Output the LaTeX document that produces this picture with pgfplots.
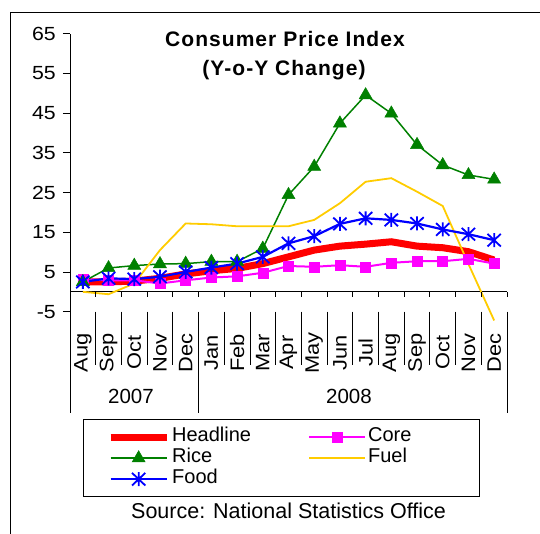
\documentclass[border=0pt]{standalone}
\usepackage{fontspec}
\setmainfont{Liberation Sans}
\newfontfamily\widefont[FakeStretch=1.12]{Liberation Sans}
\usepackage{pgfplots}
\pgfplotsset{compat=1.18}
\definecolor{fuelyellow}{RGB}{255,204,0}
\definecolor{ricegreen}{RGB}{0,128,0}
\definecolor{coremagenta}{RGB}{255,0,255}
\definecolor{foodblue}{RGB}{0,0,255}
\definecolor{headred}{RGB}{255,0,0}

% Excel style asterisk: an X with a vertical bar
\pgfdeclareplotmark{xast}{%
  \pgfpathmoveto{\pgfqpoint{-0.95\pgfplotmarksize}{-0.9\pgfplotmarksize}}%
  \pgfpathlineto{\pgfqpoint{0.95\pgfplotmarksize}{0.9\pgfplotmarksize}}%
  \pgfpathmoveto{\pgfqpoint{-0.95\pgfplotmarksize}{0.9\pgfplotmarksize}}%
  \pgfpathlineto{\pgfqpoint{0.95\pgfplotmarksize}{-0.9\pgfplotmarksize}}%
  \pgfpathmoveto{\pgfqpoint{0pt}{-\pgfplotmarksize}}%
  \pgfpathlineto{\pgfqpoint{0pt}{\pgfplotmarksize}}%
  \pgfusepathqstroke}

\begin{document}
\begin{tikzpicture}
\path[use as bounding box] (0,0) rectangle (540pt,-533pt);
% outer frame (only top and left edges are visible)
\draw[line width=0.8pt] (10pt,-600pt) -- (10pt,-12pt) -- (600pt,-12pt);

\node[font=\fontsize{21}{21}\selectfont\bfseries\addfontfeature{LetterSpace=5}, anchor=base] at (285pt,-46.7pt) {Consumer Price Index};
\node[font=\fontsize{21}{21}\selectfont\bfseries\addfontfeature{LetterSpace=5}, anchor=base] at (284pt,-75pt) {(Y-o-Y Change)};

\begin{axis}[
  at={(70pt,-311.7pt)}, anchor=south west,
  scale only axis, width=437pt, height=278.2pt,
  xmin=-0.5, xmax=16.5, ymin=-5, ymax=65,
  clip=false,
  axis y line*=left, axis x line*=bottom,
  x axis line style={draw=none},
  y axis line style={line width=0.8pt},
  xtick={0,...,16},
  xticklabels={Aug,Sep,Oct,Nov,Dec,Jan,Feb,Mar,Apr,May,Jun,Jul,Aug,Sep,Oct,Nov,Dec},
  xtick style={draw=none},
  xticklabel style={font=\widefont\fontsize{19.5}{19.5}\selectfont, yshift=-34pt, rotate=90, anchor=center},
  ytick={-5,5,15,25,35,45,55,65},
  yticklabels={-5,5,15,25,35,45,55,65},
  tick align=outside, major tick length=7pt,
  ytick style={black, line width=0.8pt},
  yticklabel style={font=\widefont\fontsize{19}{19}\selectfont, anchor=east, inner sep=0pt, xshift=-7pt},
  legend columns=2,
  legend cell align=left,
  legend image code/.code={\draw[mark repeat=2,mark phase=2,#1] plot coordinates {(0pt,0pt) (28pt,0pt) (56pt,0pt)};},
  legend style={draw=none, fill=none, at={(0.0846,-0.4180)}, anchor=north west,
    inner sep=0pt, font=\fontsize{20}{20}\selectfont,
    nodes={inner sep=0pt, text height=13pt, text depth=5pt}, row sep=3pt,
    /tikz/every odd column/.style={column sep=2pt},
    /tikz/every even column/.style={column sep=57pt}},
]
\draw[black, line width=0.8pt] (axis cs:-0.5,0) -- (axis cs:16.5,0);

\addplot[headred, line width=7pt, no markers] coordinates {
  (0,2.5) (1,2.5) (2,2.7) (3,3.4) (4,4.5) (5,5.3) (6,5.9) (7,7.1) (8,8.8)
  (9,10.5) (10,11.5) (11,12.0) (12,12.6) (13,11.5) (14,11.1) (15,10.1) (16,8.0)};
\addlegendentry{Headline}
\addplot[coremagenta, line width=2pt, mark=square*, mark size=5pt, mark options={fill=coremagenta, line width=0.5pt}] coordinates {
  (0,3.2) (1,2.9) (2,2.9) (3,2.1) (4,2.9) (5,3.6) (6,3.9) (7,4.8) (8,6.5)
  (9,6.3) (10,6.7) (11,6.3) (12,7.3) (13,7.7) (14,7.7) (15,8.3) (16,7.1)};
\addlegendentry{Core}
\addplot[ricegreen, line width=1.5pt, mark=triangle*, mark size=7.5pt, mark options={fill=ricegreen, line width=0.5pt}] coordinates {
  (0,2.5) (1,6.0) (2,6.6) (3,7.0) (4,7.1) (5,7.6) (6,7.6) (7,10.9) (8,24.4)
  (9,31.5) (10,42.4) (11,49.5) (12,44.9) (13,37.0) (14,31.9) (15,29.4) (16,28.3)};
\addlegendentry{Rice}
\addplot[fuelyellow, line width=1.8pt, no markers] coordinates {
  (0,0.0) (1,-0.6) (2,2.1) (3,10.5) (4,17.2) (5,17.0) (6,16.5) (7,16.5) (8,16.5)
  (9,18.1) (10,22.3) (11,27.7) (12,28.6) (13,25.2) (14,21.6) (15,7.0) (16,-7.2)};
\addlegendentry{Fuel}
\addplot[foodblue, line width=2.2pt, mark=xast, mark size=7pt, mark options={line width=1.8pt}] coordinates {
  (0,2.5) (1,3.4) (2,3.2) (3,3.8) (4,5.0) (5,6.1) (6,7.1) (7,8.8) (8,12.2)
  (9,14.0) (10,17.1) (11,18.5) (12,18.1) (13,17.2) (14,15.7) (15,14.5) (16,13.0)};
\addlegendentry{Food}
\end{axis}

% tick marks on the zero line
\foreach \k in {1,...,17}
  \draw[line width=0.8pt] ({(70+\k*25.7059)*1pt},-291.8pt) -- ++(0,-5pt);
% category separators
\foreach \k in {1,2,3,4,6,7,8,9,10,11,12,13,14,15,16}
  \draw[line width=0.8pt] ({(70+\k*25.7059)*1pt},-311.7pt) -- ++(0,-53.3pt);
\foreach \k in {0,5,17}
  \draw[line width=0.8pt] ({(70+\k*25.7059)*1pt},-311.7pt) -- ++(0,-101.6pt);
\node[font=\fontsize{20.5}{20.5}\selectfont] at (131pt,-396.3pt) {2007};
\node[font=\fontsize{20.5}{20.5}\selectfont] at (349pt,-396.3pt) {2008};

\draw[line width=0.8pt] (83.7pt,-419.8pt) rectangle (479pt,-496pt);
\node[font=\fontsize{21.5}{21.5}\selectfont] at (288.5pt,-510.7pt) {Source: National Statistics Office};
\end{tikzpicture}
\end{document}
